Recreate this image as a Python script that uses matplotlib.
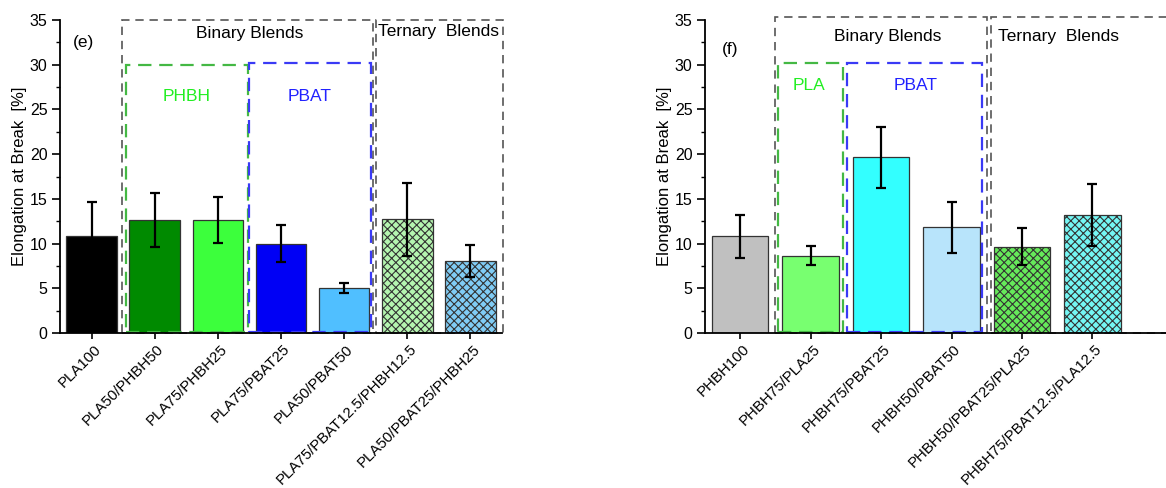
import matplotlib
matplotlib.use("Agg")
import matplotlib.pyplot as plt
import matplotlib.transforms as mtrans
from matplotlib.patches import Rectangle
from matplotlib.ticker import MultipleLocator

plt.rcParams['font.family'] = ['Liberation Sans', 'DejaVu Sans']
plt.rcParams['hatch.linewidth'] = 0.8

# ---- data: panel (e) ----
cats_e = ["PLA100", "PLA50/PHBH50", "PLA75/PHBH25", "PLA75/PBAT25", "PLA50/PBAT50",
          "PLA75/PBAT12.5/PHBH12.5", "PLA50/PBAT25/PHBH25"]
vals_e = [10.8, 12.6, 12.65, 10.0, 5.05, 12.7, 8.05]
errs_e = [3.9, 3.0, 2.6, 2.05, 0.58, 4.05, 1.78]
colors_e = ["#000000", "#008a00", "#3cff3c", "#0000f5", "#50bfff", "#b5f5b0", "#80ccf5"]
hatch_e = [None, None, None, None, None, "xxxx", "xxxx"]

# ---- data: panel (f) ----
cats_f = ["PHBH100", "PHBH75/PLA25", "PHBH75/PBAT25", "PHBH50/PBAT50",
          "PHBH50/PBAT25/PLA25", "PHBH75/PBAT12.5/PLA12.5"]
vals_f = [10.8, 8.65, 19.65, 11.8, 9.65, 13.2]
errs_f = [2.45, 1.07, 3.43, 2.82, 2.1, 3.43]
colors_f = ["#c0c0c0", "#78ff70", "#33ffff", "#b8e4fb", "#66ea5a", "#74f6f4"]
hatch_f = [None, None, None, None, "xxxx", "xxxx"]

W, H = 1166, 488
fig = plt.figure(figsize=(W / 100, H / 100), dpi=100)
ax1 = fig.add_axes([60 / W, 1 - 333 / H, (502 - 60) / W, (333 - 20) / H])
# right panel runs past the figure's right edge (cropped in the reference)
ax2 = fig.add_axes([705 / W, 1 - 333 / H, (1175 - 705) / W, (333 - 20) / H])

FS = 11.5


def style(ax, cats, xmax):
    ax.set_ylim(0, 35)
    ax.set_xlim(-0.5, xmax)
    for s in ("top", "right"):
        ax.spines[s].set_visible(False)
    for s in ("left", "bottom"):
        ax.spines[s].set_linewidth(1.3)
        ax.spines[s].set_zorder(5)
    ax.yaxis.set_major_locator(MultipleLocator(5))
    ax.yaxis.set_minor_locator(MultipleLocator(2.5))
    ax.tick_params(axis="y", which="major", length=5.5, width=1.2, labelsize=FS, direction="out")
    ax.tick_params(axis="y", which="minor", length=3, width=1.0, direction="out")
    ax.tick_params(axis="x", which="major", length=4.5, width=1.2, labelsize=10.8,
                   direction="out", pad=5.5)
    ax.set_xticks(range(len(cats)))
    ax.set_xticklabels(cats, rotation=45, ha="right", va="center", rotation_mode="anchor")
    off = mtrans.ScaledTranslation(0.07, 0, fig.dpi_scale_trans)
    for lab in ax.get_xticklabels():
        lab.set_transform(lab.get_transform() + off)
    ax.set_ylabel("Elongation at Break  [%]", fontsize=FS + 0.5, labelpad=2)


def bars(ax, vals, errs, colors, hatches):
    x = list(range(len(vals)))
    for i in x:
        ax.bar(i, vals[i], width=0.8, color=colors[i], edgecolor="#333333",
               linewidth=0.9, hatch=hatches[i], zorder=2)
    ax.errorbar(x, vals, yerr=errs, fmt="none", ecolor="black", elinewidth=1.6,
                capsize=3.5, capthick=1.6, zorder=4)


def box(ax, x0, x1, y0, y1, color, lw, dashes):
    r = Rectangle((x0, y0), x1 - x0, y1 - y0, fill=False, edgecolor=color,
                  linewidth=lw, linestyle=(0, dashes), clip_on=False, zorder=3)
    ax.add_patch(r)


# ---- panel (e) ----
bars(ax1, vals_e, errs_e, colors_e, hatch_e)
style(ax1, cats_e, 6.5)
box(ax1, 0.48, 4.45, 0.0, 35.0, "#555555", 1.2, (5, 3.5))
box(ax1, 4.50, 6.52, 0.0, 35.0, "#555555", 1.2, (5, 3.5))
box(ax1, 0.54, 2.47, 0.1, 30.0, "#44b844", 1.6, (6, 3.5))
box(ax1, 2.50, 4.42, 0.1, 30.2, "#3a3af5", 1.6, (6, 3.5))
ax1.text(2.51, 33.5, "Binary Blends", ha="center", va="center", fontsize=FS + 1)
ax1.text(5.50, 33.7, "Ternary  Blends", ha="center", va="center", fontsize=FS + 1)
ax1.text(-0.12, 32.5, "(e)", ha="center", va="center", fontsize=FS + 1)
ax1.text(1.51, 26.4, "PHBH", ha="center", va="center", fontsize=FS + 1, color="#22ee22")
ax1.text(3.46, 26.5, "PBAT", ha="center", va="center", fontsize=FS + 1, color="#2222ff")

# ---- panel (f) ----
bars(ax2, vals_f, errs_f, colors_f, hatch_f)
style(ax2, cats_f, 5.5 + (1175 - 1127.6) / 70.47)
box(ax2, 0.487, 3.50, 0.0, 35.3, "#555555", 1.2, (5, 3.5))
box(ax2, 3.56, 6.5, 0.0, 35.3, "#555555", 1.2, (5, 3.5))
box(ax2, 0.535, 1.457, 0.1, 30.15, "#44b844", 1.6, (6, 3.5))
box(ax2, 1.514, 3.43, 0.1, 30.15, "#3a3af5", 1.6, (6, 3.5))
ax2.text(2.09, 33.1, "Binary Blends", ha="center", va="center", fontsize=FS + 1)
ax2.text(4.52, 33.1, "Ternary  Blends", ha="center", va="center", fontsize=FS + 1)
ax2.text(-0.14, 31.7, "(f)", ha="center", va="center", fontsize=FS + 1)
ax2.text(0.98, 27.7, "PLA", ha="center", va="center", fontsize=FS + 1, color="#22ee22")
ax2.text(2.49, 27.7, "PBAT", ha="center", va="center", fontsize=FS + 1, color="#2222ff")

fig.savefig("out.png", dpi=100)
